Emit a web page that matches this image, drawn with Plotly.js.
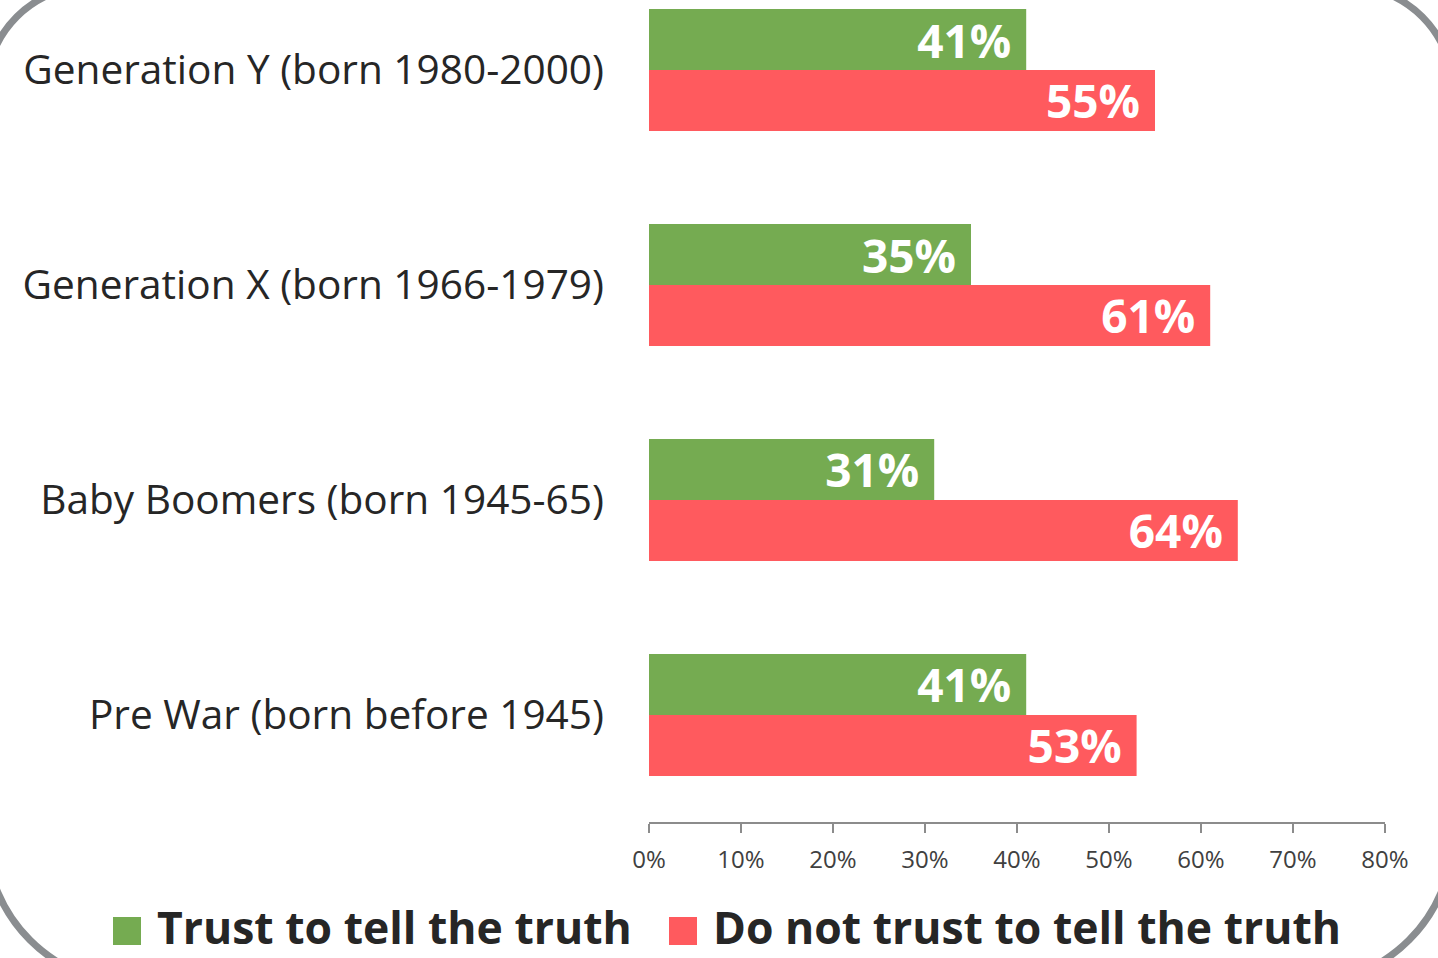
<!DOCTYPE html>
<html>
<head>
<meta charset="utf-8">
<script src="https://cdn.plot.ly/plotly-3.0.1.min.js"></script>
<style>
  html, body { margin:0; padding:0; background:#fff; }
  #chart { width:1438px; height:958px; }
</style>
</head>
<body>
<div id="chart"></div>
<script>
// generations, top to bottom
const groups = ['Generation Y (born 1980-2000)', 'Generation X (born 1966-1979)', 'Baby Boomers (born 1945-65)', 'Pre War (born before 1945)'];
const trustVals = [41, 35, 31, 41];
const distrustVals = [55, 61, 64, 53];
const seriesNames = ['Trust to tell the truth', 'Do not trust to tell the truth'];
const xTicks = [0, 10, 20, 30, 40, 50, 60, 70, 80];
const xTickText = xTicks.map(v => v + '%');

const GREEN = '#75ab51', RED = '#ff5a5e';
const FONT = 'Open Sans, Noto Sans, sans-serif';

// plot box in pixels -> helpers to place decorations in paper coords
const L = 649, W = 736, T = 0, H = 822;
const px = x => (x - L) / W;
const py = y => 1 - (y - T) / H;

function barTrace(name, vals, color){
  return {
    type:'bar', orientation:'h', name:name, x:vals, y:groups,
    marker:{color:color, line:{width:0}},
    text:vals.map(v => v + '%\u00a0'), textposition:'inside', insidetextanchor:'end',
    textangle:0, constraintext:'none',
    textfont:{family:FONT, size:46, color:'#ffffff', weight:'bold'},
    hoverinfo:'x+y', showlegend:false
  };
}

// rounded frame around the slide (mostly outside the view)
function framePath(){
  const l=-14, t=-14, r=1453, b=984, rt=105, rb=150, k=0.5523;
  const P = (x,y) => px(x).toFixed(5) + ',' + py(y).toFixed(5);
  return 'M' + P(l, t+rt) +
    ' C' + P(l, t+rt-k*rt) + ' ' + P(l+rt-k*rt, t) + ' ' + P(l+rt, t) +
    ' L' + P(r-rt, t) +
    ' C' + P(r-rt+k*rt, t) + ' ' + P(r, t+rt-k*rt) + ' ' + P(r, t+rt) +
    ' L' + P(r, b-rb) +
    ' C' + P(r, b-rb+k*rb) + ' ' + P(r-rb+k*rb, b) + ' ' + P(r-rb, b) +
    ' L' + P(l+rb, b) +
    ' C' + P(l+rb-k*rb, b) + ' ' + P(l, b-rb+k*rb) + ' ' + P(l, b-rb) + ' Z';
}

// legend built from squares + text so the swatches can be large
const legendItems = [
  {name:seriesNames[0], color:GREEN, sq:113, tx:155},
  {name:seriesNames[1], color:RED, sq:669, tx:711}
];
const legendY = 927;

const shapes = [{
  type:'path', xref:'paper', yref:'paper', path:framePath(),
  line:{color:'#8a8d90', width:7}, fillcolor:'rgba(0,0,0,0)', layer:'above'
}];
const annotations = [];
legendItems.forEach(it => {
  shapes.push({type:'rect', xref:'paper', yref:'paper',
    x0:px(it.sq), x1:px(it.sq+28), y0:py(legendY+18), y1:py(legendY-10),
    fillcolor:it.color, line:{width:0}});
  annotations.push({xref:'paper', yref:'paper', x:px(it.tx), y:py(legendY),
    xanchor:'left', yanchor:'middle', showarrow:false, text:it.name,
    font:{family:FONT, size:44.5, color:'#262626', weight:'bold'}});
});

const data = [barTrace(seriesNames[0], trustVals, GREEN), barTrace(seriesNames[1], distrustVals, RED)];

const layout = {
  width:1438, height:958,
  margin:{l:L, r:1438-L-W, t:T, b:958-T-H, pad:0},
  paper_bgcolor:'#ffffff', plot_bgcolor:'#ffffff',
  barmode:'group', bargap:0.433, bargroupgap:0,
  showlegend:false,
  xaxis:{range:[0,80], tickmode:'array', tickvals:xTicks, ticktext:xTickText, showgrid:false, zeroline:false,
    showline:true, linecolor:'#8c8c8c', linewidth:2, ticks:'outside', ticklen:9, tickwidth:2,
    tickcolor:'#8c8c8c', ticklabelstandoff:6, tickfont:{family:FONT, size:24, color:'#404040'}, fixedrange:true},
  yaxis:{type:'category', range:[3.498, -0.3256], showgrid:false, zeroline:false, showline:false,
    ticks:'', ticklabelstandoff:44, tickfont:{family:FONT, size:40.6, color:'#262626'}, fixedrange:true},
  shapes:shapes, annotations:annotations,
  font:{family:FONT}
};

Plotly.newPlot('chart', data, layout, {displayModeBar:false, staticPlot:true});
</script>
</body>
</html>
